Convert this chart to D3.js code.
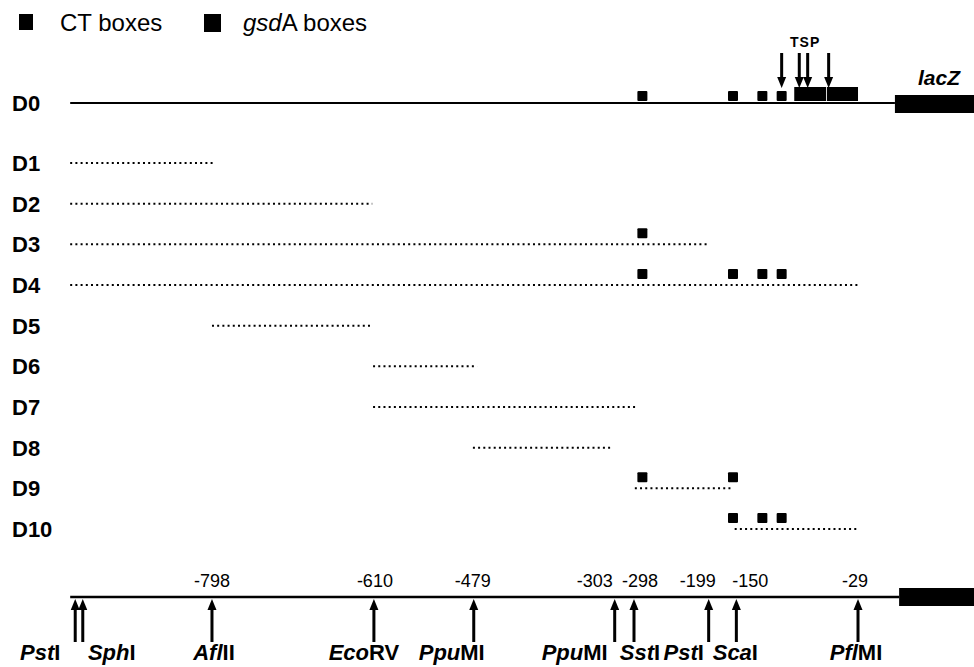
<!DOCTYPE html>
<html><head><meta charset="utf-8">
<script src="https://cdn.jsdelivr.net/npm/d3@7"></script>
<style>
body{margin:0;background:#fff}
svg{display:block}
text{font-family:"Liberation Sans",Arial,Helvetica,sans-serif;fill:#000}
</style>
</head><body>
<svg id="c" width="974" height="667"></svg>
<script>
// ---------------- data (map positions in bp, as drawn in the schematic) ----------------
const rowNames = ["D1","D2","D3","D4","D5","D6","D7","D8","D9","D10"];
const rowStart = [-967,-967,-967,-967,-798,-606,-606,-487,-294,-175];
const rowEnd   = [-797,-607,-208,-26,-606,-482,-293,-320,-177,-29];
const lineStart = -967;         // 5' end of the promoter fragment
const lacZStart = 16;           // start of lacZ on the D0 map
const boxRows = ["D0","D0","D0","D0","D3","D4","D4","D4","D4","D9","D9","D10","D10","D10"];
const boxPos  = [-285,-177,-142,-119,-285,-285,-177,-142,-119,-285,-177,-177,-142,-119];
const blockStart = [-104,-65];
const blockEnd   = [-66,-28];
const tspPos = [-119,-98,-88,-63];
const siteNames  = [["Pst","I"],["Sph","I"],["Afl","II"],["Eco","RV"],["Ppu","MI"],["Ppu","MI"],["Sst","I"],["Pst","I"],["Sca","I"],["Pfl","MI"]];
const sitePos    = [-961,-952,-798,-605,-486,-318,-295,-206,-173,-28];
const siteCoord  = [null,null,"-798","-610","-479","-303","-298","-199","-150","-29"];
const legendLabels = [["","CT boxes"],["gsd","A boxes"]];

// ---------------- layout ----------------
const W = 974, H = 667;
const svg = d3.select("#c");
const x = d3.scaleLinear().domain([-1000, 0]).range([42.5, 881.5]);
const y = d3.scalePoint().domain(rowNames).range([163, 529]);
const yD0 = 103, yAxis = 597;
const nameDx = [-35, 29, 2, -10, -22, -40, 6, -25, -1, -2];
const coordDx = [0, 0, 0, 1, -1, -20, 6, -11, 14, -3];

// legend
const lg = svg.append("g");
[[19,14,14,16],[204,14,17,18]].forEach((r,i)=>{
  lg.append("rect").attr("x",r[0]).attr("y",r[1]).attr("width",r[2]).attr("height",r[3]).attr("fill","#000");
});
const lt1 = lg.append("text").attr("x",60).attr("y",31).attr("font-size",24);
lt1.text(legendLabels[0][1]);
const lt2 = lg.append("text").attr("x",243).attr("y",31).attr("font-size",24);
lt2.append("tspan").attr("font-style","italic").text(legendLabels[1][0]);
lt2.append("tspan").text(legendLabels[1][1]);

// row labels
svg.append("text").attr("x",12).attr("y",yD0+8).attr("font-size",22).attr("font-weight","bold").text("D0");
svg.selectAll("text.row").data(rowNames).join("text").attr("class","row")
  .attr("x",12).attr("y",d=>y(d)+8).attr("font-size",22).attr("font-weight","bold").text(d=>d);

// D0 line & lacZ
svg.append("line").attr("x1",x(lineStart)).attr("x2",x(lacZStart)).attr("y1",yD0).attr("y2",yD0)
  .attr("stroke","#000").attr("stroke-width",2);
svg.append("rect").attr("x",x(lacZStart)).attr("y",yD0-8).attr("width",W-x(lacZStart)).attr("height",18).attr("fill","#000");
svg.append("text").attr("x",939).attr("y",85).attr("text-anchor","middle").attr("font-size",21)
  .attr("font-weight","bold").attr("font-style","italic").text("lacZ");

// D0 large blocks
blockStart.forEach((s,i)=>{
  svg.append("rect").attr("x",x(s)).attr("y",yD0-16).attr("width",x(blockEnd[i])-x(s)).attr("height",14).attr("fill","#000");
});

// dotted deletion lines
svg.selectAll("line.del").data(rowNames).join("line").attr("class","del")
  .attr("x1",(d,i)=>x(rowStart[i])).attr("x2",(d,i)=>x(rowEnd[i]))
  .attr("y1",d=>y(d)).attr("y2",d=>y(d))
  .attr("stroke","#000").attr("stroke-width",2).attr("stroke-dasharray","2 3.2");

// boxes
const bs = 10;
svg.selectAll("rect.box").data(boxPos).join("rect").attr("class","box")
  .attr("x",d=>x(d)-bs/2)
  .attr("y",(d,i)=> boxRows[i]==="D0" ? yD0-2-bs : y(boxRows[i])-6-bs)
  .attr("width",bs).attr("height",bs).attr("rx",1).attr("fill","#000");

// TSP arrows (pointing down)
svg.append("text").attr("x",x(-91)).attr("y",47).attr("text-anchor","middle").attr("font-size",14)
  .attr("font-weight","bold").attr("letter-spacing",1).text("TSP");
tspPos.forEach(p=>{
  const cx = x(p);
  svg.append("rect").attr("x",cx-1.5).attr("y",53).attr("width",3).attr("height",26).attr("fill","#000");
  svg.append("path").attr("d",`M${cx-4.5},77 L${cx+4.5},77 L${cx},88 Z`).attr("fill","#000");
});

// bottom map axis
svg.append("line").attr("x1",x(lineStart)).attr("x2",x(lacZStart+5)).attr("y1",yAxis).attr("y2",yAxis)
  .attr("stroke","#000").attr("stroke-width",2.5);
svg.append("rect").attr("x",x(lacZStart+5)).attr("y",yAxis-9).attr("width",W-x(lacZStart+5)).attr("height",18).attr("fill","#000");

sitePos.forEach((p,i)=>{
  const cx = x(p);
  svg.append("rect").attr("x",cx-1.5).attr("y",608).attr("width",3).attr("height",34).attr("fill","#000");
  svg.append("path").attr("d",`M${cx},599 L${cx+4.5},610 L${cx-4.5},610 Z`).attr("fill","#000");
  if (siteCoord[i]) {
    svg.append("text").attr("x",cx+coordDx[i]).attr("y",587).attr("text-anchor","middle")
      .attr("font-size",18).text(siteCoord[i]);
  }
  const t = svg.append("text").attr("x",cx+nameDx[i]).attr("y",660).attr("text-anchor","middle")
    .attr("font-size",22).attr("font-weight","bold");
  t.append("tspan").attr("font-style","italic").text(siteNames[i][0]);
  t.append("tspan").text(siteNames[i][1]);
});
</script>
</body></html>
